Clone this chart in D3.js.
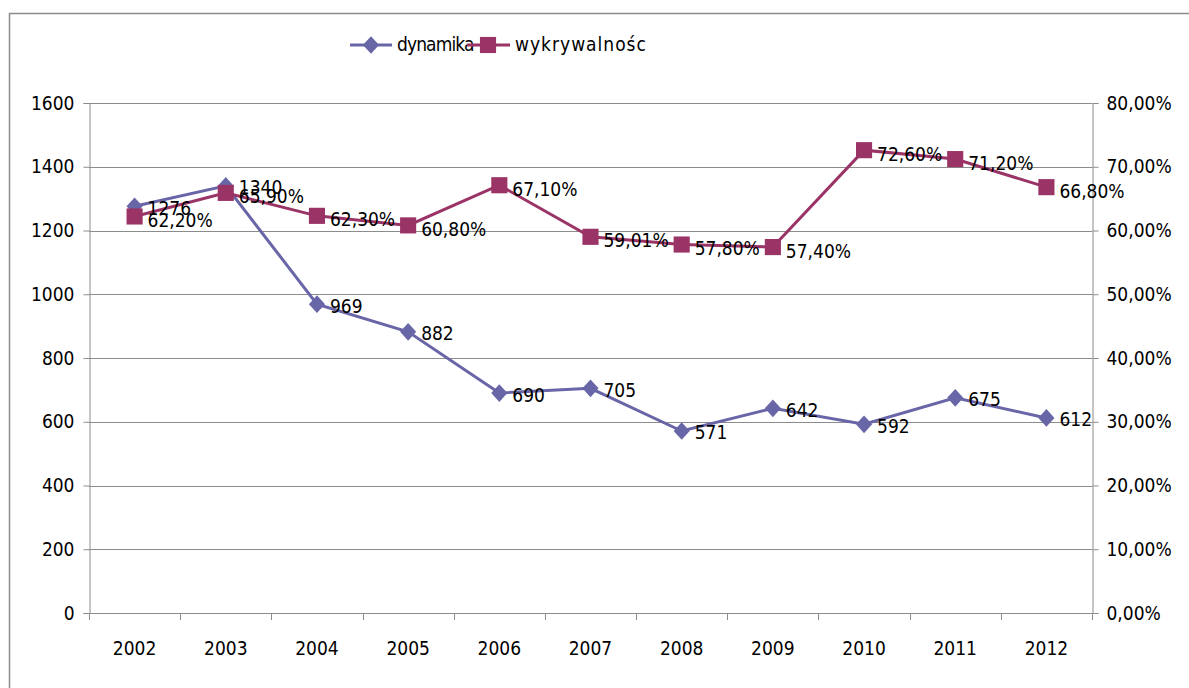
<!DOCTYPE html>
<html>
<head>
<meta charset="utf-8">
<script src="https://cdn.jsdelivr.net/npm/d3@7"></script>
<style>
  body { margin: 0; background: #fff; }
  svg text { font-family: "DejaVu Sans Condensed", "Liberation Sans Narrow", sans-serif; fill: #000; }
</style>
</head>
<body>
<script>
var lata = ["2002", "2003", "2004", "2005", "2006", "2007", "2008", "2009", "2010", "2011", "2012"];
var dynamika = [1276, 1340, 969, 882, 690, 705, 571, 642, 592, 675, 612];
var wykrywalnosc = [62.20, 65.90, 62.30, 60.80, 67.10, 59.01, 57.80, 57.40, 72.60, 71.20, 66.80];
var lewaOs = [0, 200, 400, 600, 800, 1000, 1200, 1400, 1600];
var prawaOs = [0, 10, 20, 30, 40, 50, 60, 70, 80];

var kolorDyn = "#6966a8";
var kolorWyk = "#9a3366";

// romb szerszy niz d3.symbolDiamond
var rombTyp = {
    draw: function(ctx, size) {
        var r = Math.sqrt(size / 2);
        ctx.moveTo(0, -r * 1.1);
        ctx.lineTo(r, 0);
        ctx.lineTo(0, r * 1.1);
        ctx.lineTo(-r, 0);
        ctx.closePath();
    }
};

function graficar() {
    var w = 1189;
    var h = 688;
    var left = 89, right = 1092, top = 103, bottom = 613;

    var svg = d3.select("body")
        .append("svg")
        .attr("width", w)
        .attr("height", h);

    // ramka wykresu (tylko lewa i gorna krawedz widoczna)
    svg.append("rect")
        .attr("x", 9.5).attr("y", 13.5)
        .attr("width", 1300).attr("height", 800)
        .attr("fill", "none")
        .attr("stroke", "#8c8c8c")
        .attr("stroke-width", 1.5);

    var x = d3.scaleBand().domain(lata).range([left, right]);
    var y = d3.scaleLinear().domain([0, 1600]).range([bottom, top]);
    var y2 = d3.scaleLinear().domain([0, 80]).range([bottom, top]);

    // linie siatki
    svg.append("g")
        .selectAll("line")
        .data(lewaOs.slice(1))
        .enter()
        .append("line")
        .attr("x1", left).attr("x2", right)
        .attr("y1", function(d) { return Math.round(y(d)) + 0.5; })
        .attr("y2", function(d) { return Math.round(y(d)) + 0.5; })
        .attr("stroke", "#8c8c8c");

    var fmtProc = function(d) { return d.toFixed(2).replace(".", ",") + "%"; };

    var osL = svg.append("g")
        .attr("transform", "translate(" + (left + 0.5) + ",0)")
        .call(d3.axisLeft(y).tickValues(lewaOs).tickSize(6).tickPadding(9).tickFormat(d3.format("d")));
    var osP = svg.append("g")
        .attr("transform", "translate(" + (right + 0.5) + ",0)")
        .call(d3.axisRight(y2).tickValues(prawaOs).tickSize(6).tickPadding(8).tickFormat(fmtProc));
    var osX = svg.append("g")
        .attr("transform", "translate(0," + (bottom + 0.5) + ")")
        .call(d3.axisBottom(x).tickSize(0).tickPadding(28));

    // znaczniki kategorii na granicach
    svg.append("g")
        .selectAll("line")
        .data(lata.concat(["koniec"]))
        .enter()
        .append("line")
        .attr("x1", function(d, i) { return Math.round(left + i * x.step()) + 0.5; })
        .attr("x2", function(d, i) { return Math.round(left + i * x.step()) + 0.5; })
        .attr("y1", bottom).attr("y2", bottom + 7)
        .attr("stroke", "#8c8c8c");

    [osL, osP, osX].forEach(function(g) {
        g.selectAll(".domain").attr("stroke", "#8c8c8c").attr("stroke-width", 1);
        g.selectAll(".tick line").attr("stroke", "#8c8c8c");
        g.selectAll("text").attr("font-size", 19).style("font-family", null);
    });
    osX.select(".domain").attr("d", "M" + left + ",0H" + right);

    var cx = function(i) { return x(lata[i]) + x.bandwidth() / 2; };

    // seria dynamika
    var liniaDyn = d3.line()
        .x(function(d, i) { return cx(i); })
        .y(function(d) { return y(d); });
    svg.append("path")
        .datum(dynamika)
        .attr("d", liniaDyn)
        .attr("fill", "none")
        .attr("stroke", kolorDyn)
        .attr("stroke-width", 3);

    // seria wykrywalnosc
    var liniaWyk = d3.line()
        .x(function(d, i) { return cx(i); })
        .y(function(d) { return y2(d); });
    svg.append("path")
        .datum(wykrywalnosc)
        .attr("d", liniaWyk)
        .attr("fill", "none")
        .attr("stroke", kolorWyk)
        .attr("stroke-width", 3);

    var romb = d3.symbol().type(rombTyp).size(130);
    var kwadrat = d3.symbol().type(d3.symbolSquare).size(260);

    svg.append("g")
        .selectAll("path")
        .data(dynamika)
        .enter()
        .append("path")
        .attr("d", romb)
        .attr("transform", function(d, i) { return "translate(" + cx(i) + "," + y(d) + ")"; })
        .attr("fill", kolorDyn);

    svg.append("g")
        .selectAll("path")
        .data(wykrywalnosc)
        .enter()
        .append("path")
        .attr("d", kwadrat)
        .attr("transform", function(d, i) { return "translate(" + cx(i) + "," + y2(d) + ")"; })
        .attr("fill", kolorWyk);

    // etykiety danych
    svg.append("g")
        .selectAll("text")
        .data(dynamika)
        .enter()
        .append("text")
        .text(function(d) { return d; })
        .attr("x", function(d, i) { return cx(i) + 13; })
        .attr("y", function(d) { return y(d) + 3; })
        .attr("dominant-baseline", "middle")
        .attr("font-size", 19);

    svg.append("g")
        .selectAll("text")
        .data(wykrywalnosc)
        .enter()
        .append("text")
        .text(fmtProc)
        .attr("x", function(d, i) { return cx(i) + 13; })
        .attr("y", function(d) { return y2(d) + 5; })
        .attr("dominant-baseline", "middle")
        .attr("font-size", 19);

    // legenda
    var leg = svg.append("g");
    leg.append("line").attr("x1", 350).attr("x2", 392).attr("y1", 45).attr("y2", 45)
        .attr("stroke", kolorDyn).attr("stroke-width", 3);
    leg.append("path").attr("d", romb).attr("transform", "translate(371,45)").attr("fill", kolorDyn);
    leg.append("text").attr("x", 397).attr("y", 45).attr("dominant-baseline", "middle")
        .attr("font-size", 19).attr("letter-spacing", -0.9)
        .text("dynamika");
    leg.append("line").attr("x1", 467).attr("x2", 510).attr("y1", 45).attr("y2", 45)
        .attr("stroke", kolorWyk).attr("stroke-width", 3);
    leg.append("path").attr("d", kwadrat).attr("transform", "translate(488,45)").attr("fill", kolorWyk);
    leg.append("text").attr("x", 515).attr("y", 45).attr("dominant-baseline", "middle")
        .attr("font-size", 19).attr("letter-spacing", 1)
        .text("wykrywalnośc");
}

graficar();
</script>
</body>
</html>
